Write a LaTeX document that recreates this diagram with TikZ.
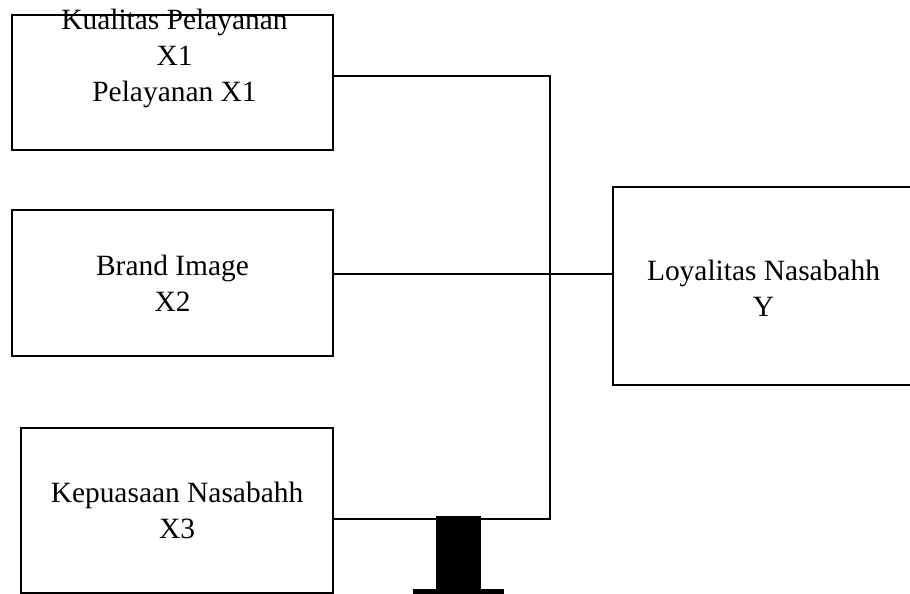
\documentclass[tikz,border=0pt]{standalone}
\usepackage{fontspec}
\setmainfont{Liberation Serif}
\usetikzlibrary{positioning,calc}
\tikzset{
    box/.style = {
        draw,
        shape=rectangle,
        line width=0.8pt,
        inner sep=0pt,
        align=center,
        font=\fontsize{16.75}{20.5}\selectfont
    },
    boxtext/.style = {
        align=center,
        inner sep=0pt,
        font=\fontsize{16.75}{20.5}\selectfont
    },
    link/.style = {
        draw,
        line width=1pt
    },
}
\begin{document}
\begin{tikzpicture}[x=0.02cm, y=-0.02cm]

            \useasboundingbox (0,0) rectangle (910,594);

            \node[box, minimum width=6.42cm, minimum height=2.7cm] (kualitas) at (172.5,82.5) {};
            \node[boxtext] (kualitas_text) at (174.5,58.5) {Kualitas Pelayanan\\X1\\Pelayanan X1};

            \node[box, minimum width=6.42cm, minimum height=2.92cm] (brand) at (172.5,283) {Brand Image\\X2};
            \node[box, minimum width=6.24cm, minimum height=3.3cm] (kepuasan) at (177,510.5) {Kepuasaan Nasabahh\\X3};

            \node[box, minimum width=6.4cm, minimum height=3.96cm] (loyalitas) at (773,286) {};
            \node[boxtext] (loyalitas_text) at (763.5,288.5) {Loyalitas Nasabahh\\Y};

            \coordinate (top) at (550,76);
            \coordinate (mid) at (550,274);
            \coordinate (bottom) at (550,519);

            \path[link] (kualitas.east |- top) -- (top) -- (bottom) -- (kepuasan.east |- bottom);
            \path[link] (brand.east |- mid) -- (loyalitas.west |- mid);

            \fill (436,516) rectangle (481,594);
            \fill (413,589) rectangle (504,594);

        \end{tikzpicture}
\end{document}
